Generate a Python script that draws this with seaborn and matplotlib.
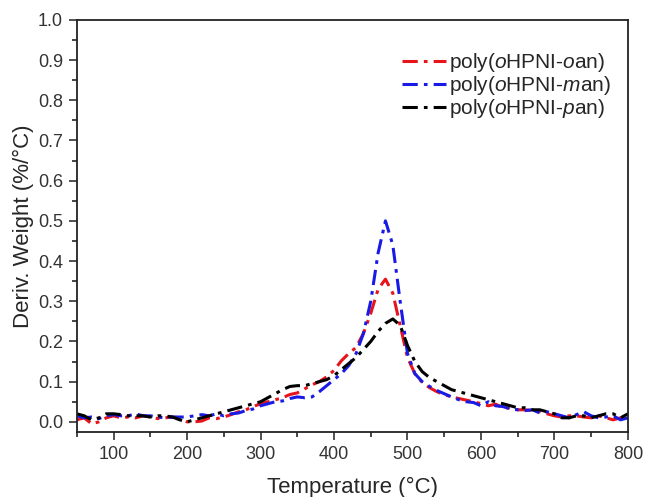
import numpy as np
import pandas as pd
import matplotlib
matplotlib.use("Agg")
import matplotlib.pyplot as plt
import seaborn as sns
from matplotlib.ticker import MultipleLocator

# temperature grid (°C)
temp = [50, 60, 70, 80, 90, 100, 110, 120, 130, 140, 150, 160, 170, 180, 190,
        200, 210, 220, 230, 240, 250, 260, 270, 280, 290, 300, 310, 320, 330, 340,
        350, 360, 370, 380, 390, 400, 410, 420, 430, 440, 450, 460, 470, 480, 490,
        500, 510, 520, 530, 540, 550, 560, 570, 580, 590, 600, 610, 620, 630, 640,
        650, 660, 670, 680, 690, 700, 710, 720, 730, 740, 750, 760, 770, 780, 790, 800]

oan = [0.005, 0.010, -0.005, 0.000, 0.010, 0.015, 0.010, 0.012, 0.010, 0.015,
       0.012, 0.008, 0.010, 0.012, 0.010, 0.000, 0.000, 0.002, 0.010, 0.008,
       0.012, 0.018, 0.025, 0.030, 0.038, 0.045, 0.050, 0.055, 0.060, 0.068,
       0.072, 0.082, 0.092, 0.100, 0.112, 0.128, 0.152, 0.170, 0.185, 0.220,
       0.270, 0.330, 0.355, 0.320, 0.240, 0.160, 0.120, 0.098, 0.085, 0.075,
       0.068, 0.062, 0.058, 0.054, 0.050, 0.045, 0.040, 0.044, 0.035, 0.035,
       0.030, 0.030, 0.028, 0.025, 0.020, 0.015, 0.012, 0.015, 0.015, 0.012,
       0.010, 0.015, 0.010, 0.005, 0.010, 0.000]

man = [0.015, 0.010, 0.012, 0.008, 0.015, 0.018, 0.015, 0.015, 0.020, 0.015,
       0.015, 0.012, 0.010, 0.012, 0.012, 0.012, 0.015, 0.018, 0.015, 0.020,
       0.015, 0.020, 0.022, 0.028, 0.032, 0.040, 0.045, 0.050, 0.052, 0.058,
       0.062, 0.060, 0.062, 0.075, 0.090, 0.105, 0.120, 0.140, 0.170, 0.220,
       0.300, 0.420, 0.500, 0.440, 0.300, 0.170, 0.120, 0.100, 0.088, 0.078,
       0.070, 0.062, 0.055, 0.050, 0.048, 0.040, 0.050, 0.040, 0.038, 0.032,
       0.030, 0.028, 0.030, 0.022, 0.025, 0.020, 0.015, 0.010, 0.018, 0.025,
       0.015, 0.010, 0.012, 0.015, 0.005, 0.010]

pan = [0.020, 0.015, 0.005, 0.010, 0.020, 0.020, 0.018, 0.015, 0.015, 0.015,
       0.012, 0.015, 0.015, 0.012, 0.005, 0.000, 0.005, 0.010, 0.015, 0.020,
       0.025, 0.030, 0.035, 0.040, 0.045, 0.050, 0.060, 0.070, 0.080, 0.088,
       0.090, 0.090, 0.095, 0.100, 0.105, 0.115, 0.130, 0.145, 0.160, 0.180,
       0.200, 0.225, 0.245, 0.256, 0.240, 0.190, 0.150, 0.125, 0.110, 0.100,
       0.090, 0.080, 0.075, 0.070, 0.065, 0.060, 0.055, 0.050, 0.045, 0.040,
       0.035, 0.035, 0.030, 0.030, 0.025, 0.020, 0.010, 0.010, 0.015, 0.015,
       0.010, 0.015, 0.020, 0.020, 0.010, 0.020]

labels = ["poly($\\it{o}$HPNI-$\\it{o}$an)",
          "poly($\\it{o}$HPNI-$\\it{m}$an)",
          "poly($\\it{o}$HPNI-$\\it{p}$an)"]
colors = ["#e8141b", "#1a1ae6", "#000000"]

df = pd.concat([
    pd.DataFrame({"T": temp, "dw": vals, "sample": lab})
    for vals, lab in zip([oan, man, pan], labels)
])

sns.set_style("ticks")
plt.rcParams["font.family"] = ["Liberation Sans", "DejaVu Sans"]
plt.rcParams["mathtext.fontset"] = "custom"
plt.rcParams["mathtext.rm"] = "Liberation Sans"
plt.rcParams["mathtext.it"] = "Liberation Sans:italic"

fig = plt.figure(figsize=(6.46, 4.97), dpi=100)
ax = fig.add_axes([0.119, 0.131, 0.853, 0.829])

dash = (5, 2, 1.2, 2)
sns.lineplot(data=df, x="T", y="dw", hue="sample", style="sample",
             palette=colors, dashes=[dash, dash, dash], linewidth=2.2, ax=ax)

ax.set_xlim(50, 800)
ax.set_ylim(-0.025, 1.0)
ax.xaxis.set_major_locator(MultipleLocator(100))
ax.xaxis.set_minor_locator(MultipleLocator(50))
ax.yaxis.set_major_locator(MultipleLocator(0.1))
ax.yaxis.set_minor_locator(MultipleLocator(0.05))
ax.set_xticks([100, 200, 300, 400, 500, 600, 700, 800])
ax.tick_params(which="major", direction="out", length=6, width=1.2, labelsize=13,
               colors="#333333", pad=4)
ax.tick_params(which="minor", direction="out", length=3.5, width=1.2)
for s in ax.spines.values():
    s.set_linewidth(1.3)
    s.set_color("#222222")

ax.set_xlabel("Temperature (°C)", fontsize=16, labelpad=10)
ax.set_ylabel("Deriv. Weight (%/°C)", fontsize=16, labelpad=3)

ax.legend(loc="upper right", bbox_to_anchor=(0.995, 0.96), frameon=False,
          fontsize=15, handlelength=2.1, handletextpad=0.15, labelspacing=0.0,
          borderaxespad=0.3, title=None)

fig.savefig("out.png", dpi=100)
